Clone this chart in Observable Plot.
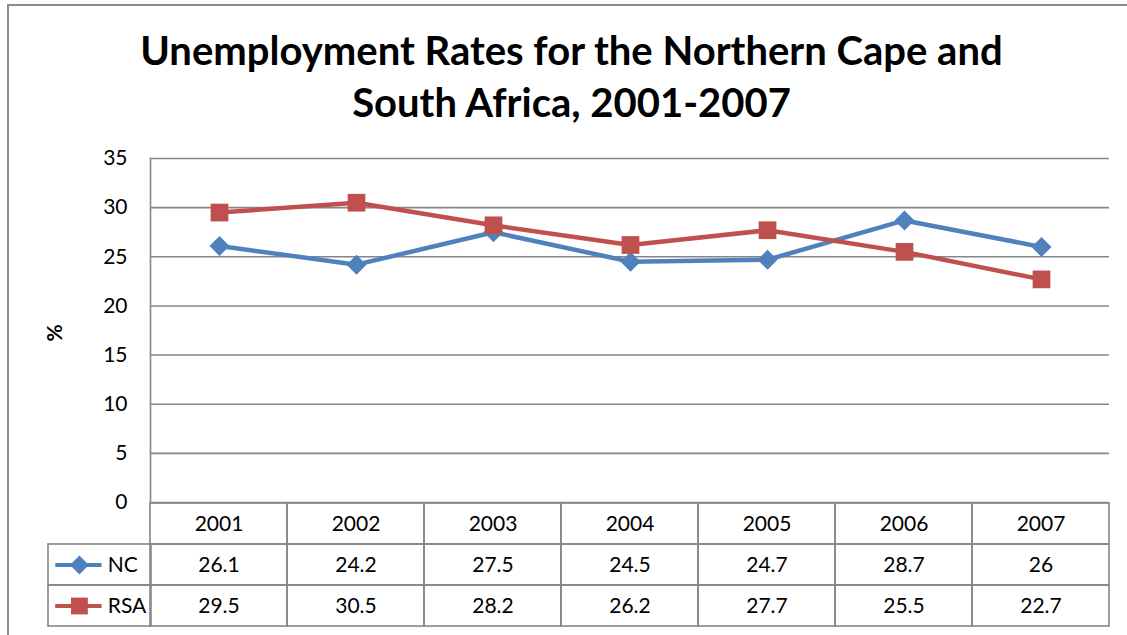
<!DOCTYPE html>
<html>
<head>
<meta charset="utf-8">
<script src="https://cdn.jsdelivr.net/npm/d3@7"></script>
<script src="https://cdn.jsdelivr.net/npm/@observablehq/plot@0.6"></script>
<style>
  html, body { margin: 0; padding: 0; background: #fff; overflow: hidden; }
  #wrap { position: relative; width: 1127px; height: 635px; overflow: hidden; background: #fff; }
  #frame { position: absolute; left: 7px; top: 4px; width: 1200px; height: 700px;
           border-left: 2px solid #8c8c8c; border-top: 2px solid #8c8c8c; box-sizing: border-box; }
  #title { position: absolute; left: 8px; top: 23.5px; width: 1127px; text-align: center;
           font-family: Lato, "Open Sans", sans-serif; font-weight: 700; font-size: 40px;
           line-height: 52px; color: #000; white-space: nowrap; }
  .layer { position: absolute; }
</style>
</head>
<body>
<div id="wrap">
  <div id="frame"></div>
  <div id="title">Unemployment Rates for the Northern Cape and<br>South Africa, 2001-2007</div>
  <div id="main" class="layer" style="left:0;top:0"></div>
  <div id="table" class="layer" style="left:0;top:501px"></div>
  <div id="legend" class="layer" style="left:47px;top:501px"></div>
</div>
<script>
// ---- data ----
const years = ["2001", "2002", "2003", "2004", "2005", "2006", "2007"];
const ncValues = [26.1, 24.2, 27.5, 24.5, 24.7, 28.7, 26];
const rsaValues = [29.5, 30.5, 28.2, 26.2, 27.7, 25.5, 22.7];
const yTicks = [0, 5, 10, 15, 20, 25, 30, 35];
const seriesNames = ["NC", "RSA"];
const seriesColors = {NC: "#4F81BD", RSA: "#C0504D"};

const nc = years.map((y, i) => ({year: y, value: ncValues[i], series: "NC"}));
const rsa = years.map((y, i) => ({year: y, value: rsaValues[i], series: "RSA"}));

const font = "Lato, 'Open Sans', sans-serif";
const grid = "#868686";
const fs = 21;

// ---- main chart ----
const main = Plot.plot({
  width: 1127,
  height: 510,
  marginLeft: 150,
  marginRight: 18,
  marginTop: 158,
  marginBottom: 8,
  style: {fontFamily: font, fontSize: fs + "px", color: "#000", background: "transparent", overflow: "visible"},
  x: {type: "point", domain: years, padding: 0.5, axis: null},
  y: {domain: [0, 35], ticks: yTicks, tickSize: 0, tickPadding: 23, label: null},
  marks: [
    Plot.ruleY(yTicks, {stroke: grid, strokeWidth: 1.6}),
    Plot.frame({anchor: "left", stroke: grid, strokeWidth: 1.6}),
    Plot.line(nc, {x: "year", y: "value", stroke: seriesColors.NC, strokeWidth: 4.5}),
    Plot.dot(nc, {x: "year", y: "value", symbol: "diamond2", r: 9, fill: seriesColors.NC, stroke: "none"}),
    Plot.line(rsa, {x: "year", y: "value", stroke: seriesColors.RSA, strokeWidth: 4.5}),
    Plot.dot(rsa, {x: "year", y: "value", symbol: "square", r: 10, fill: seriesColors.RSA, stroke: "none"}),
    Plot.text(["%"], {frameAnchor: "left", dx: -95, dy: 11, rotate: -90, fontWeight: "bold", fontSize: 21})
  ]
});
document.getElementById("main").appendChild(main);

// ---- data table ----
const rows = ["year", ...seriesNames];
const tableCells = [
  ...years.map(y => ({year: y, row: "year", text: y})),
  ...nc.map(d => ({year: d.year, row: "NC", text: String(d.value)})),
  ...rsa.map(d => ({year: d.year, row: "RSA", text: String(d.value)}))
];
const table = Plot.plot({
  width: 1127,
  height: 127,
  marginLeft: 150,
  marginRight: 18,
  marginTop: 1,
  marginBottom: 2,
  style: {fontFamily: font, fontSize: fs + "px", color: "#000", background: "transparent", overflow: "visible"},
  x: {type: "band", domain: years, padding: 0, axis: null},
  y: {type: "band", domain: rows, padding: 0, axis: null},
  marks: [
    Plot.cell(tableCells, {x: "year", y: "row", fill: "none", stroke: grid, strokeWidth: 1.6}),
    Plot.text(tableCells, {x: "year", y: "row", text: "text", fontSize: fs})
  ]
});
document.getElementById("table").appendChild(table);

// ---- legend column of the table ----
const legend = Plot.plot({
  width: 104,
  height: 127,
  marginLeft: 1,
  marginRight: 0,
  marginTop: 1,
  marginBottom: 2,
  style: {fontFamily: font, fontSize: fs + "px", color: "#000", background: "transparent", overflow: "visible"},
  x: {domain: [0, 1], axis: null},
  y: {type: "band", domain: rows, padding: 0, axis: null},
  marks: [
    Plot.barX(seriesNames, {x1: 0, x2: 1, y: d => d, fill: "none", stroke: grid, strokeWidth: 1.6}),
    Plot.ruleY(seriesNames, {y: d => d, x1: 0.07, x2: 0.52, stroke: d => seriesColors[d], strokeWidth: 4}),
    Plot.dot(["NC"], {x: 0.3, y: d => d, symbol: "diamond2", r: 8.5, fill: seriesColors.NC, stroke: "none"}),
    Plot.dot(["RSA"], {x: 0.3, y: d => d, symbol: "square", r: 9.5, fill: seriesColors.RSA, stroke: "none"}),
    Plot.text(seriesNames, {x: 0.575, y: d => d, text: d => d, textAnchor: "start", fontSize: fs})
  ]
});
document.getElementById("legend").appendChild(legend);
</script>
</body>
</html>
